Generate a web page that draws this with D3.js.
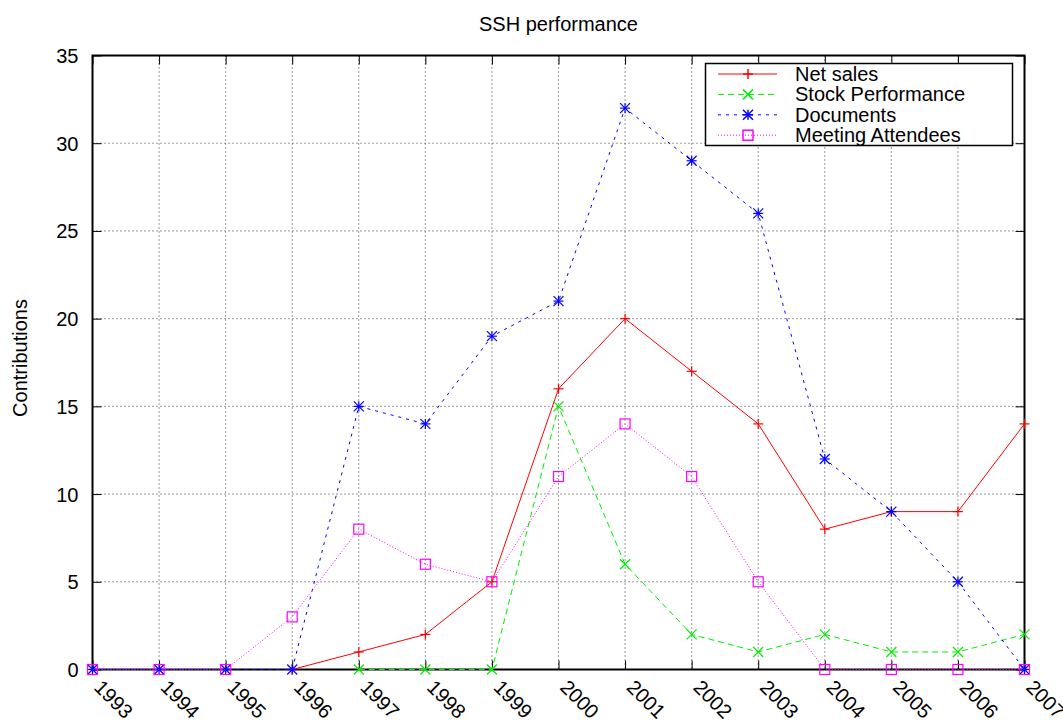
<!DOCTYPE html>
<html>
<head>
<meta charset="utf-8">
<script src="https://cdn.jsdelivr.net/npm/d3@7"></script>
<style>
  body { margin: 0; background: #fff; }
  svg { display: block; font-family: "Liberation Sans", Arial, Helvetica, sans-serif; }
</style>
</head>
<body>
<svg id="chart" width="1063" height="722"></svg>
<script>
// Yearly series
const years = [1993, 1994, 1995, 1996, 1997, 1998, 1999, 2000, 2001, 2002, 2003, 2004, 2005, 2006, 2007];
const netSales = [null, null, null, 0, 1, 2, 5, 16, 20, 17, 14, 8, 9, 9, 14];
const stockPerformance = [null, null, null, null, 0, 0, 0, 15, 6, 2, 1, 2, 1, 1, 2];
const documents = [0, 0, 0, 0, 15, 14, 19, 21, 32, 29, 26, 12, 9, 5, 0];
const meetingAttendees = [0, 0, 0, 3, 8, 6, 5, 11, 14, 11, 5, 0, 0, 0, 0];
const yTicks = [0, 5, 10, 15, 20, 25, 30, 35];

const series = [
  { name: "Net sales", values: netSales, color: "#ff0000", dash: null, marker: "plus" },
  { name: "Stock Performance", values: stockPerformance, color: "#00ee00", dash: "6,4", marker: "cross" },
  { name: "Documents", values: documents, color: "#0000ff", dash: "3,5", marker: "star" },
  { name: "Meeting Attendees", values: meetingAttendees, color: "#ff00ff", dash: "1,2", marker: "square" }
];

const FONT = 20;
const svg = d3.select("#chart");
const plotLeft = 92.5, plotRight = 1024.5, plotTop = 55.5, plotBottom = 669.5;

const x = d3.scaleLinear().domain([1993, 2007]).range([plotLeft, plotRight]);
const y = d3.scaleLinear().domain([0, 35]).range([plotBottom, plotTop]);

// Title and axis label
svg.append("text").attr("x", (plotLeft + plotRight) / 2).attr("y", 31).attr("text-anchor", "middle")
  .attr("font-size", FONT).text("SSH performance");
svg.append("text").attr("transform", `translate(27,358) rotate(-90)`)
  .attr("text-anchor", "middle").attr("font-size", FONT).text("Contributions");

// Grid
const grid = svg.append("g").attr("stroke", "#000").attr("stroke-width", 1)
  .attr("stroke-dasharray", "1,3").attr("opacity", 0.8);
years.slice(1, -1).forEach(yr => {
  grid.append("line").attr("x1", x(yr)).attr("x2", x(yr)).attr("y1", plotTop).attr("y2", plotBottom);
});
yTicks.slice(1, -1).forEach(v => {
  grid.append("line").attr("x1", plotLeft).attr("x2", plotRight).attr("y1", y(v)).attr("y2", y(v));
});

// Axes: inward ticks on all four sides
const tickLen = 9;
const yAxisL = d3.axisLeft(y).tickValues(yTicks).tickSize(-tickLen).tickPadding(14).tickFormat(d3.format("d"));
const yAxisR = d3.axisRight(y).tickValues(yTicks).tickSize(-tickLen).tickFormat("");
const xAxisB = d3.axisBottom(x).tickValues(years).tickSize(-tickLen).tickFormat(d3.format("d"));
const xAxisT = d3.axisTop(x).tickValues(years).tickSize(-tickLen).tickFormat("");

const gL = svg.append("g").attr("transform", `translate(${plotLeft},0)`).call(yAxisL);
const gR = svg.append("g").attr("transform", `translate(${plotRight},0)`).call(yAxisR);
const gB = svg.append("g").attr("transform", `translate(0,${plotBottom})`).call(xAxisB);
const gT = svg.append("g").attr("transform", `translate(0,${plotTop})`).call(xAxisT);
[gL, gR, gB, gT].forEach(g => {
  g.select(".domain").remove();
  g.selectAll("line").attr("stroke", "#000").attr("stroke-width", 1);
  g.selectAll("text").attr("fill", "#000")
    .attr("font-family", "Liberation Sans, Arial, sans-serif").attr("font-size", FONT);
});
gL.selectAll("text").attr("dy", "0.35em");
gB.selectAll("text")
  .attr("text-anchor", "start")
  .attr("x", 0).attr("y", 0).attr("dy", 0)
  .attr("transform", "translate(0,19) rotate(45)");

// Frame
svg.append("rect").attr("x", plotLeft).attr("y", plotTop).attr("width", plotRight - plotLeft).attr("height", plotBottom - plotTop)
  .attr("fill", "none").attr("stroke", "#000").attr("stroke-width", 2);

// Marker shapes
function drawMarker(g, type, cx, cy, color, w) {
  const s = 5;
  const m = g.append("g").attr("stroke", color).attr("stroke-width", w || 1).attr("fill", "none");
  if (type === "plus" || type === "star") {
    m.append("line").attr("x1", cx - s).attr("x2", cx + s).attr("y1", cy).attr("y2", cy);
    m.append("line").attr("x1", cx).attr("x2", cx).attr("y1", cy - s).attr("y2", cy + s);
  }
  if (type === "cross" || type === "star") {
    m.append("line").attr("x1", cx - s).attr("x2", cx + s).attr("y1", cy - s).attr("y2", cy + s);
    m.append("line").attr("x1", cx - s).attr("x2", cx + s).attr("y1", cy + s).attr("y2", cy - s);
  }
  if (type === "square") {
    m.append("rect").attr("x", cx - s).attr("y", cy - s).attr("width", 2 * s).attr("height", 2 * s);
  }
}

const line = d3.line()
  .defined(d => d.v !== null)
  .x(d => x(d.yr)).y(d => y(d.v));

const plot = svg.append("g");
series.forEach(s => {
  const pts = years.map((yr, i) => ({ yr, v: s.values[i] }));
  plot.append("path").datum(pts).attr("d", line)
    .attr("fill", "none").attr("stroke", s.color).attr("stroke-width", 1)
    .attr("stroke-dasharray", s.dash);
  pts.filter(p => p.v !== null).forEach(p => drawMarker(plot, s.marker, x(p.yr), y(p.v), s.color, 1.2));
});

// Legend
const lg = svg.append("g");
lg.append("rect").attr("x", 705.5).attr("y", 63.5).attr("width", 307).attr("height", 82)
  .attr("fill", "#fff").attr("stroke", "#000").attr("stroke-width", 1.5);
series.forEach((s, i) => {
  const ly = 74 + i * 20.4;
  lg.append("line").attr("x1", 718).attr("x2", 777).attr("y1", ly).attr("y2", ly)
    .attr("stroke", s.color).attr("stroke-width", 1).attr("stroke-dasharray", s.dash);
  drawMarker(lg, s.marker, 748, ly, s.color, 1.5);
  lg.append("text").attr("x", 795).attr("y", ly).attr("dy", "0.35em")
    .attr("font-size", FONT).text(s.name);
});
</script>
</body>
</html>
